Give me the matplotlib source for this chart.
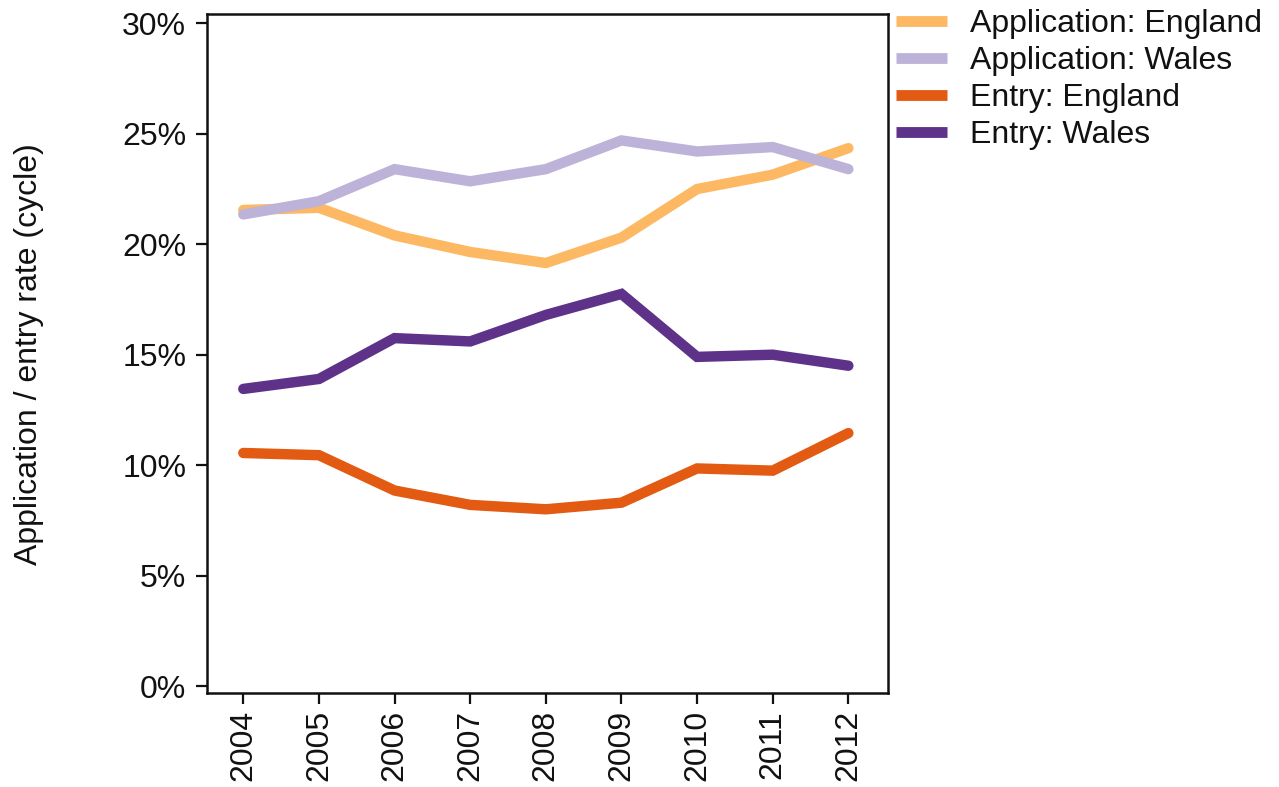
import matplotlib
matplotlib.use("Agg")
import matplotlib.pyplot as plt
from matplotlib.ticker import FuncFormatter

years = [2004, 2005, 2006, 2007, 2008, 2009, 2010, 2011, 2012]
app_england = [21.55, 21.65, 20.4, 19.65, 19.15, 20.3, 22.5, 23.15, 24.35]
app_wales = [21.35, 21.95, 23.4, 22.85, 23.4, 24.7, 24.2, 24.4, 23.4]
entry_england = [10.55, 10.45, 8.85, 8.2, 8.0, 8.3, 9.85, 9.75, 11.45]
entry_wales = [13.45, 13.9, 15.75, 15.6, 16.8, 17.75, 14.9, 15.0, 14.5]

series_names = ["Application: England", "Application: Wales", "Entry: England", "Entry: Wales"]
series_values = [app_england, app_wales, entry_england, entry_wales]
colors = ["#FDB863", "#BDB3D8", "#E35B12", "#5E3289"]
y_ticks = [0, 5, 10, 15, 20, 25, 30]

plt.rcParams['font.family'] = ['Liberation Sans', 'DejaVu Sans']
plt.rcParams['font.size'] = 23

fig = plt.figure(figsize=(12.79, 7.87), dpi=100)
ax = fig.add_axes([207/1279, 1-693.3/787, (887.7-207)/1279, (693.3-14.3)/787])

lines = []
for name, vals, c in zip(series_names, series_values, colors):
    ln, = ax.plot(years, vals, color=c, lw=7.5, solid_capstyle='round',
                  solid_joinstyle='miter', label=name)
    lines.append(ln)

ax.set_xlim(2003.52, 2012.52)
ax.set_ylim(-0.33, 30.41)
ax.set_yticks(y_ticks)
ax.yaxis.set_major_formatter(FuncFormatter(lambda v, p: f"{int(v)}%"))
ax.set_xticks(years)
ax.set_xticklabels([str(y) for y in years], rotation=90)

for s in ax.spines.values():
    s.set_linewidth(1.8)
    s.set_color("#111111")
ax.tick_params(axis='both', length=8, width=1.6, color="#111111", labelcolor="#111111")
ax.tick_params(axis='y', pad=7)
ax.tick_params(axis='x', pad=4)

ax.set_ylabel("Application / entry rate (cycle)", color="#111111")
ax.yaxis.set_label_coords(-0.24, 0.5)

leg = fig.legend(handles=lines, loc='upper left', bbox_to_anchor=(893/1279, 1 - 6/787),
                 frameon=False, handlelength=1.6, handletextpad=0.7,
                 labelspacing=0.22, borderaxespad=0, borderpad=0.1, fontsize=23)
for t in leg.get_texts():
    t.set_color("#111111")
for h in leg.legend_handles:
    h.set_linewidth(7.8)
    h.set_solid_capstyle('butt')

fig.savefig("out.png", dpi=100)
